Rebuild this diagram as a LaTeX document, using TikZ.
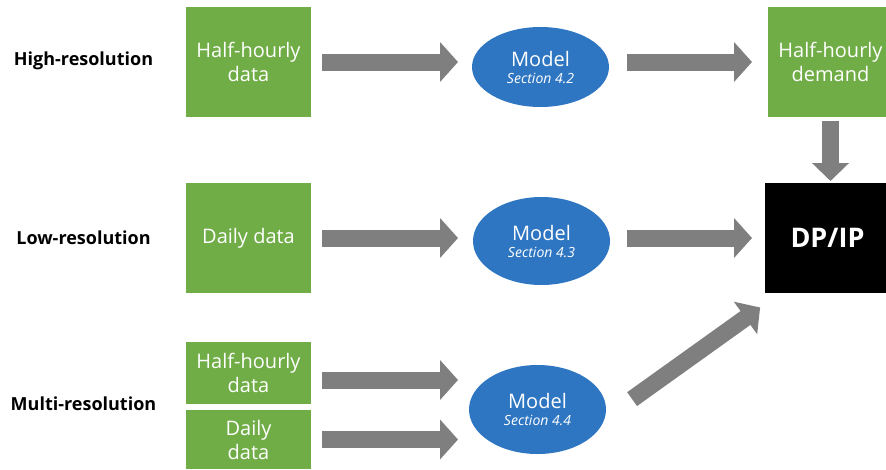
\documentclass[tikz,border=0pt]{standalone}
\usepackage{fontspec}
\setmainfont{Open Sans}
\usetikzlibrary{shapes.geometric,arrows.meta,calc}
\definecolor{boxgreen}{HTML}{70AD47}
\definecolor{modelblue}{HTML}{2E76C1}
\definecolor{arrowgray}{HTML}{7F7F7F}
\begin{document}
\begin{tikzpicture}[x=1pt,y=-1pt,inner sep=0pt,outer sep=0pt,
databox/.style={fill=boxgreen,text=white,align=center,minimum width=125pt,font=\fontsize{20}{24}\selectfont},
modelnode/.style={ellipse,fill=modelblue,text=white,align=center,minimum width=137pt,font=\fontsize{20}{17}\selectfont},
outbox/.style={fill=black,text=white,minimum width=125pt,minimum height=110pt,font=\fontsize{27}{32}\selectfont\bfseries},
rowlabel/.style={font=\fontsize{18}{22}\selectfont\bfseries},
blockarrow/.style={draw=arrowgray,line width=17pt,-{Triangle[width=39pt,length=18pt]}}]
\useasboundingbox (0,0) rectangle (886,469);

\draw (83.5,61) node[rowlabel] (high) {High-resolution};
\draw (83.5,238) node[rowlabel] (low) {Low-resolution};
\draw (83.5,404) node[rowlabel] (multi) {Multi-resolution};

\draw (248.5,62) node[databox,minimum height=110pt] (hh) {Half-hourly\\data};
\draw (248.5,238) node[databox,minimum height=110pt] (dd) {Daily data};
\draw (248.5,373) node[databox,minimum height=62pt] (mhh) {Half-hourly\\data};
\draw (248.5,439.5) node[databox,minimum height=59pt] (mdd) {Daily\\data};

\draw (540.5,67) node[modelnode,minimum height=80pt] (m1) {Model\\{\fontsize{14}{16}\selectfont\itshape Section 4.2}};
\draw (541.5,241) node[modelnode,minimum height=88pt] (m2) {Model\\{\fontsize{14}{16}\selectfont\itshape Section 4.3}};
\draw (537.5,409.5) node[modelnode,minimum height=89pt] (m3) {Model\\{\fontsize{14}{16}\selectfont\itshape Section 4.4}};

\draw (830.5,62) node[databox,minimum height=110pt] (hhd) {Half-hourly\\demand};
\draw (827.5,238) node[outbox] (dpip) {DP/IP};

\draw[blockarrow,shorten <=11pt,shorten >=14pt] (hh.east) -- (hh -| m1.west);
\draw[blockarrow,shorten <=18pt,shorten >=16pt] (m1.east |- hhd) -- (hhd.west);
\draw[blockarrow,shorten <=11pt,shorten >=15pt] (dd.east) -- (dd -| m2.west);
\draw[blockarrow,shorten <=17pt,shorten >=13pt] (m2.east |- dpip) -- (dpip.west);
\draw[blockarrow,shorten <=11pt,shorten >=11pt] ($(mhh.east)+(0,7)$) -- ($(mhh.east -| m3.west)+(0,7)$);
\draw[blockarrow,shorten <=11pt,shorten >=11pt] (mdd.east) -- (mdd -| m3.west);
\draw[blockarrow,-{Triangle[width=36pt,length=18pt]},shorten <=4pt,shorten >=2pt] (hhd.south) -- (hhd.south |- dpip.north);
\draw[blockarrow,shorten <=34pt,shorten >=6pt] (m3.-8) -- ($(dpip.south west)+(0,11)$);
\end{tikzpicture}
\end{document}
